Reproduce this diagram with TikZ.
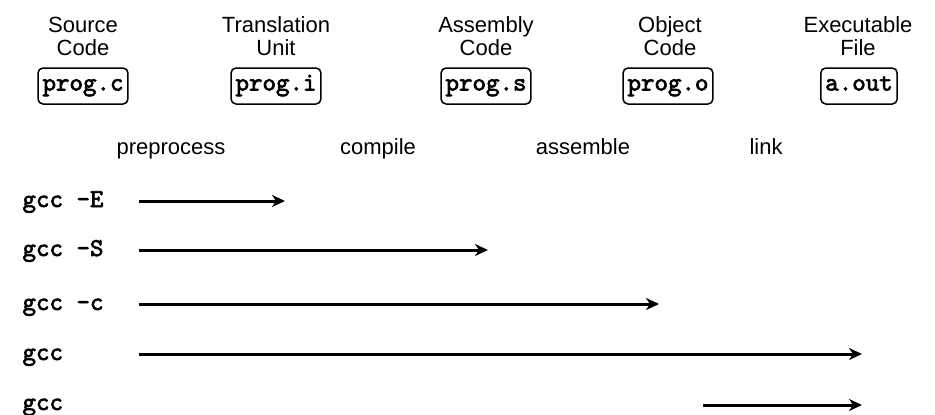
\documentclass[tikz,border=0pt]{standalone}
\usepackage{fontspec}
\setmainfont{Liberation Sans}
\newfontfamily\codefamily{lmmono10-regular.otf}[FakeBold=2.5]
\usetikzlibrary{arrows.meta}
\newcommand{\labelfont}{\rmfamily\fontsize{22}{23}\selectfont}
\newcommand{\codefont}{\codefamily\fontsize{25.7}{28}\selectfont}
\begin{document}
\begin{tikzpicture}[x=1pt,y=-1pt,
  filebox/.style={draw, rounded corners=5pt, line width=1.5pt, inner xsep=4.5pt,
    inner ysep=0pt, text height=14pt, text depth=5pt, minimum height=36pt, font=\codefont},
  kind/.style={align=center, font=\labelfont, anchor=base},
  stage/.style={font=\labelfont, anchor=base},
  cmd/.style={font=\codefont, anchor=base west},
  flow/.style={line width=3pt, -{Stealth[length=13pt,width=12pt,inset=4pt]}}]
\useasboundingbox (0,0) rectangle (935,415);

% file kinds (anchored at the baseline of the second line)
\node[kind] (srcK) at (83,55) {Source\\Code};
\node[kind] (tuK)  at (276,55) {Translation\\Unit};
\node[kind] (asmK) at (486,55) {Assembly\\Code};
\node[kind] (objK) at (670,55) {Object\\Code};
\node[kind] (exeK) at (858,55) {Executable\\File};

% files
\node[filebox] (src) at (83,86)  {prog.c};
\node[filebox] (tu)  at (276,86) {prog.i};
\node[filebox] (asm) at (486,86) {prog.s};
\node[filebox] (obj) at (668,86) {prog.o};
\node[filebox] (exe) at (859,86) {a.out};

% stages
\node[stage] (pre)  at (171,154) {preprocess};
\node[stage] (comp) at (378,154) {compile};
\node[stage] (as)   at (583,154) {assemble};
\node[stage] (ld)   at (766,154) {link};

% commands
\node[cmd] (cE) at (19,207) {gcc -E};
\node[cmd] (cS) at (19,256) {gcc -S};
\node[cmd] (cc) at (19,310) {gcc -c};
\node[cmd] (cA) at (19,360) {gcc};
\node[cmd] (cL) at (19,410) {gcc};

% extent of each command
\coordinate (eS) at (139,201); \coordinate (eE) at (285,201);
\coordinate (sS) at (139,250); \coordinate (sE) at (488,250);
\coordinate (oS) at (139,304); \coordinate (oE) at (659,304);
\coordinate (aS) at (139,354); \coordinate (aE) at (862,354);
\coordinate (lS) at (703,405); \coordinate (lE) at (862,405);

\draw[flow] (eS) -- (eE);
\draw[flow] (sS) -- (sE);
\draw[flow] (oS) -- (oE);
\draw[flow] (aS) -- (aE);
\draw[flow] (lS) -- (lE);
\end{tikzpicture}
\end{document}
